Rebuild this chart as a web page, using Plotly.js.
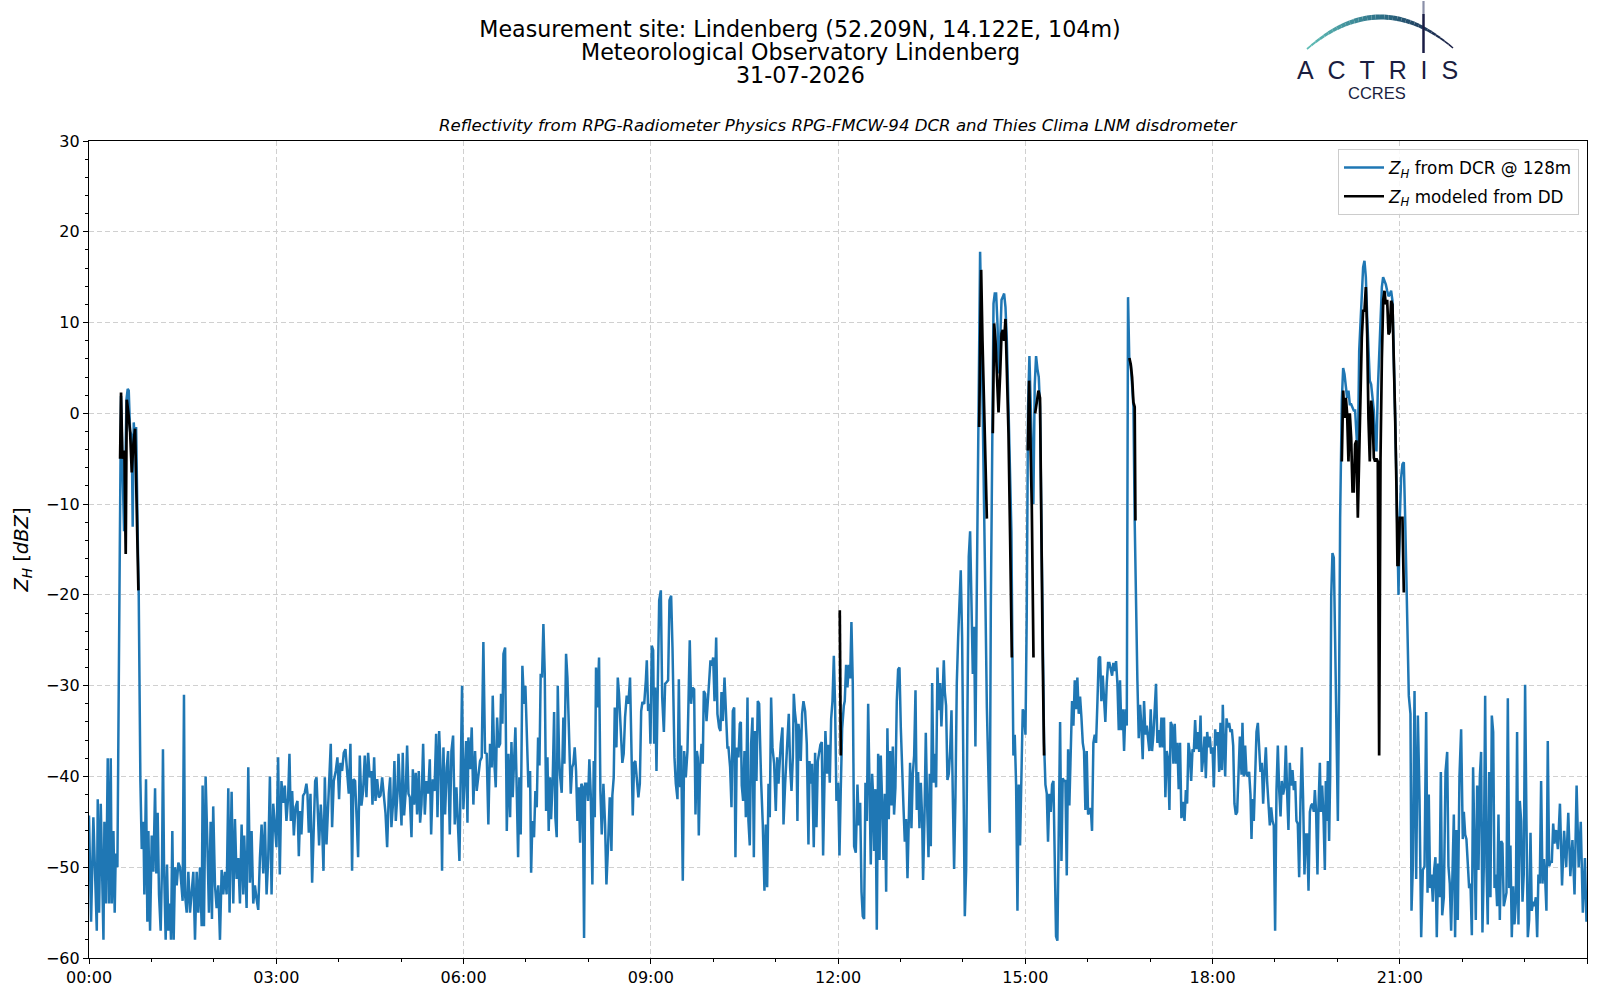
<!DOCTYPE html>
<html>
<head>
<meta charset="utf-8">
<script src="https://cdn.plot.ly/plotly-3.0.1.min.js"></script>
<style>html,body{margin:0;padding:0;background:#fff}#chart{width:1600px;height:1000px}</style>
</head>
<body>
<div id="chart"></div>
<script>
// ---- DATA: [minutes after 00:00 UTC, reflectivity dBZ] ----
const dcr00to03 = [[0.0,-44.3],[2.0,-56],[4.2,-44.5],[7.5,-57],[8.4,-42.5],[9.7,-55],[11.3,-43],[13.9,-58],[14.8,-45],[16.4,-54],[18.0,-38],[19.3,-54],[20.9,-38],[21.9,-54],[23.5,-46],[24.7,-55],[25.7,-48.5],[27.3,-50],[29.6,-15],[30.2,-2],[30.8,1.9],[32.1,-5.3],[33.7,-13],[34.7,-8],[36.0,1.5],[37.2,2.7],[38.2,2.5],[39.5,-2],[41.1,-2.5],[42.0,-12.5],[43.0,-1],[44.3,-3.3],[45.3,-1.5],[46.9,-14],[47.8,-20],[49.4,-40.5],[50.7,-48],[52.3,-45],[53.2,-53],[54.8,-40.3],[56.1,-56],[57.1,-46],[58.7,-57],[60.3,-46.5],[61.9,-50.5],[63.5,-41.3],[64.7,-50.7],[66.0,-44],[67.3,-53],[68.9,-57],[70.2,-49.7],[71.1,-37],[72.1,-49.7],[73.7,-58],[75.0,-49.7],[76.3,-57],[77.9,-54],[78.8,-58],[80.1,-46],[81.4,-58],[82.7,-50],[84.3,-52],[85.9,-49.5],[87.5,-50],[89.1,-52],[90.0,-53.7],[91.3,-31],[92.3,-53],[93.9,-55],[95.5,-50.5],[97.1,-55],[98.7,-53],[100.3,-50.5],[101.9,-58],[103.5,-50.5],[105.1,-55],[106.7,-50],[108.3,-56.5],[109.2,-41],[110.5,-56.5],[112.1,-40],[113.7,-47],[115.3,-55],[116.9,-45],[118.2,-55.7],[119.4,-43.3],[121.1,-52],[122.7,-54.5],[124.3,-52],[125.9,-58],[127.5,-50.3],[129.1,-53],[130.7,-50.5],[132.3,-53],[133.9,-41.3],[135.1,-55],[137.1,-41.7],[138.7,-54],[140.3,-44.7],[141.9,-51.3],[143.5,-49],[145.1,-54],[146.7,-45.3],[148.3,-53],[149.2,-46.5],[151.5,-54.5],[153.1,-39],[154.7,-51.7],[156.3,-46],[157.9,-54],[159.5,-52],[161.1,-53.5],[162.7,-54.7],[164.3,-49],[165.9,-45.3],[167.5,-50.7],[169.1,-45],[170.7,-53],[172.3,-49],[173.9,-40],[175.5,-53],[177.1,-43]];
const dcr03to06 = [[180.2,-47.8],[181.8,-37.9],[183.4,-50.8],[185.0,-40.5],[186.6,-42.9],[188.2,-41.0],[189.8,-44.9],[191.4,-42.3],[192.7,-37.5],[194.0,-44.9],[195.3,-41.6],[196.9,-46.5],[198.5,-43.4],[200.4,-42.7],[201.7,-48.8],[203.0,-43.8],[204.2,-46.4],[205.8,-42.1],[207.4,-41.8],[209.0,-40.8],[210.0,-41.9],[211.3,-46.2],[212.9,-41.9],[214.5,-51.7],[216.1,-44.2],[217.4,-40.5],[218.7,-40.1],[220.3,-44.9],[221.2,-47.6],[222.8,-43.1],[224.1,-45.6],[225.4,-50.4],[226.7,-40.1],[228.3,-47.5],[229.9,-42.3],[231.2,-39.0],[232.4,-36.4],[233.7,-45.6],[235.3,-40.5],[237.2,-39.4],[238.8,-37.9],[240.4,-42.5],[241.7,-38.5],[243.3,-39.4],[244.9,-37.4],[246.5,-37.0],[248.1,-39.4],[249.7,-41.9],[251.3,-36.4],[252.9,-50.4],[254.2,-40.3],[255.8,-40.5],[257.4,-44.9],[258.7,-48.9],[260.3,-37.7],[261.9,-43.2],[263.5,-41.6],[265.1,-37.7],[266.7,-42.3],[268.3,-37.4],[269.9,-40.1],[271.5,-39.4],[272.5,-43.1],[274.1,-37.9],[275.4,-42.7],[277.0,-40.3],[278.6,-42.3],[280.2,-42.1],[281.8,-40.1],[283.4,-42.1],[285.0,-44.0],[286.6,-47.8],[288.2,-41.9],[289.5,-40.1],[290.7,-45.6],[292.4,-42.7],[293.6,-38.3],[294.9,-44.9],[296.5,-41.9],[297.5,-37.5],[299.1,-41.6],[300.4,-45.4],[301.6,-37.4],[302.9,-44.3],[304.5,-41.6],[305.8,-36.6],[307.1,-41.9],[308.4,-42.3],[310.0,-46.7],[311.3,-39.2],[312.5,-43.1],[314.1,-39.6],[315.4,-44.2],[317.0,-39.4],[318.3,-45.1],[319.6,-43.1],[321.2,-36.4],[322.8,-44.2],[324.4,-40.5],[326.0,-41.9],[327.6,-38.1],[328.9,-46.4],[330.5,-40.3],[332.1,-41.6],[333.7,-35.3],[335.0,-44.5],[336.6,-35.0],[338.2,-39.7],[339.4,-50.4],[340.7,-36.8],[342.3,-44.2],[343.9,-39.0],[345.2,-37.2],[346.8,-46.4],[348.4,-37.2],[350.0,-35.5],[351.6,-45.3],[353.2,-41.2]];
const dcr06to09 = [[356.1,-49.3],[357.4,-39.4],[358.6,-30.0],[359.9,-43.6],[361.5,-39.4],[362.5,-36.1],[363.8,-45.1],[364.7,-35.7],[366.3,-39.2],[367.9,-34.6],[369.5,-43.1],[371.1,-37.2],[372.7,-41.6],[374.3,-39.7],[375.9,-38.3],[377.5,-37.9],[379.1,-25.2],[380.7,-37.4],[382.3,-37.5],[383.9,-45.3],[385.5,-36.4],[387.1,-39.0],[388.1,-31.1],[389.7,-38.6],[391.0,-41.2],[392.3,-33.5],[393.6,-36.8],[395.2,-36.4],[396.1,-30.9],[397.4,-34.2],[398.4,-26.5],[400.0,-25.8],[401.6,-46.0],[403.2,-37.5],[404.8,-44.5],[406.1,-36.2],[407.3,-42.3],[408.6,-38.3],[409.9,-34.6],[411.2,-41.6],[412.5,-48.9],[413.7,-40.1],[415.0,-46.4],[416.6,-27.8],[418.2,-32.0],[419.5,-30.0],[420.8,-35.7],[422.4,-41.2],[424.0,-39.4],[425.0,-50.6],[426.2,-44.9],[427.8,-46.7],[429.1,-41.6],[430.4,-43.4],[431.7,-35.7],[433.0,-38.8],[434.2,-28.7],[435.5,-29.1],[436.8,-23.2],[438.1,-28.7],[439.4,-43.8],[440.7,-37.9],[441.9,-46.0],[443.2,-40.1],[444.2,-44.7],[445.8,-40.1],[447.1,-32.9],[448.3,-44.5],[449.6,-46.7],[450.6,-30.0],[451.9,-37.9],[452.8,-39.9],[454.4,-41.8],[456.0,-33.5],[457.0,-38.6],[458.6,-26.5],[459.9,-29.1],[461.5,-35.7],[463.1,-41.9],[464.4,-39.0],[465.6,-38.6],[466.9,-36.8],[468.2,-39.4],[469.5,-44.9],[470.8,-41.2],[472.1,-47.3],[473.3,-40.8],[474.6,-41.2],[475.9,-57.8],[476.9,-40.8],[478.5,-40.8],[479.7,-42.7],[481.0,-38.1],[482.3,-41.9],[483.9,-51.9],[485.2,-38.3],[486.2,-44.5],[487.4,-28.0],[488.7,-32.4],[490.3,-26.9],[491.6,-41.6],[492.9,-46.4],[494.5,-40.8],[496.1,-45.3],[497.4,-51.9],[499.0,-47.5],[500.6,-42.3],[502.2,-48.2],[503.1,-42.1],[504.4,-40.1],[505.4,-32.4],[507.0,-36.8],[508.3,-29.1],[509.5,-30.9],[511.1,-34.2],[512.7,-38.5],[514.0,-37.5],[515.3,-33.5],[516.9,-31.1],[518.5,-32.0],[520.1,-29.1],[521.4,-35.7],[522.7,-44.3],[524.0,-38.5],[525.2,-38.3],[526.5,-40.1],[528.1,-42.3]];
const dcr09to12 = [[529.5,-40.8],[530.8,-32.8],[532.0,-31.8],[533.7,-32.0],[535.3,-29.4],[536.2,-27.2],[537.5,-32.8],[538.8,-32.0],[539.7,-36.4],[541.0,-25.6],[542.3,-26.1],[543.3,-36.4],[544.2,-30.2],[545.5,-39.4],[546.8,-29.8],[548.1,-20.6],[549.7,-19.5],[551.0,-31.3],[552.6,-35.1],[553.8,-29.8],[555.4,-29.6],[556.7,-29.4],[558.0,-20.6],[559.6,-20.1],[560.9,-25.8],[562.8,-37.9],[564.1,-40.8],[565.7,-42.5],[567.0,-29.3],[568.3,-41.2],[569.2,-36.6],[570.8,-51.5],[572.1,-37.2],[573.7,-40.1],[575.3,-37.2],[576.3,-29.8],[577.5,-25.0],[578.8,-32.0],[580.1,-30.2],[581.7,-30.4],[583.0,-44.2],[584.3,-37.2],[585.2,-37.9],[586.2,-46.5],[587.5,-39.0],[588.8,-36.4],[590.0,-38.6],[591.0,-30.6],[592.3,-30.9],[593.6,-33.9],[594.8,-31.1],[596.1,-29.6],[597.4,-27.2],[598.7,-27.8],[600.0,-26.9],[601.3,-31.7],[602.9,-24.7],[604.1,-33.1],[605.7,-34.6],[607.0,-35.0],[608.0,-30.7],[609.3,-33.9],[610.9,-29.1],[612.1,-32.8],[613.7,-36.8],[614.7,-36.8],[616.3,-39.0],[617.6,-43.4],[618.9,-32.8],[620.2,-32.4],[621.4,-48.9],[622.7,-36.8],[624.3,-37.9],[625.6,-34.2],[626.6,-34.0],[627.5,-41.0],[628.8,-42.7],[630.1,-37.2],[631.4,-44.5],[633.0,-31.3],[633.9,-44.9],[635.2,-47.6],[636.5,-36.4],[637.8,-33.5],[639.1,-48.9],[640.3,-35.0],[641.6,-40.5],[642.9,-31.7],[644.2,-32.0],[646.1,-40.5],[647.7,-45.3],[649.3,-52.6],[650.6,-45.3],[651.9,-52.2],[653.2,-40.8],[654.4,-44.5],[655.7,-31.3],[657.0,-36.8],[658.6,-38.6],[660.2,-43.8],[661.5,-37.9],[662.8,-40.8],[664.1,-37.9],[665.0,-36.4],[666.6,-34.6],[667.6,-45.3],[669.2,-40.8],[670.5,-37.9],[671.7,-36.4],[672.7,-33.1],[674.0,-39.0],[675.3,-41.6],[676.6,-37.9],[677.5,-30.9],[678.5,-32.8],[679.8,-34.2],[681.0,-44.9],[682.0,-34.2],[683.3,-35.7],[684.2,-38.3],[685.5,-33.1],[686.8,-31.7],[688.4,-32.8],[690.0,-36.4],[691.6,-47.5],[692.6,-38.3],[693.9,-40.8],[695.1,-38.6],[696.7,-47.8],[698.0,-37.4],[699.3,-45.6],[700.6,-38.3]];
const dcr12to15 = [[703.1,-36.5],[704.4,-36.2],[705.7,-48.7],[707.0,-36.7],[707.9,-35.0],[709.6,-39.7],[710.8,-36.5],[712.1,-40.7],[713.4,-33.7],[714.7,-31.7],[716.0,-26.7],[717.2,-32.2],[718.5,-42.7],[720.1,-40.7],[721.4,-48.7],[722.7,-41.2],[724.0,-34.7],[725.6,-32.2],[726.5,-31.7],[727.8,-27.7],[729.1,-30.2],[730.4,-27.7],[731.7,-29.2],[732.9,-23.0],[734.2,-29.7],[735.5,-47.7],[737.1,-48.4],[738.7,-40.9],[740.0,-45.4],[741.3,-42.9],[742.6,-52.7],[743.8,-55.4],[745.1,-55.7],[746.4,-40.7],[747.7,-44.9],[749.0,-32.0],[750.2,-42.2],[751.5,-49.7],[752.8,-39.7],[753.8,-42.2],[754.7,-48.2],[756.0,-41.4],[757.3,-56.9],[758.6,-37.5],[759.9,-49.2],[761.1,-37.7],[762.4,-42.7],[763.7,-49.2],[765.0,-41.9],[766.3,-52.7],[767.5,-34.7],[768.8,-44.7],[770.1,-37.2],[771.4,-43.2],[772.7,-36.7],[773.9,-44.2],[775.2,-41.2],[776.5,-31.7],[777.8,-28.2],[779.1,-28.0],[780.4,-34.7],[781.6,-39.7],[782.9,-43.2],[784.2,-47.2],[785.5,-44.7],[786.8,-51.2],[788.0,-44.2],[789.3,-38.5],[790.6,-45.7],[791.9,-39.7],[793.2,-37.7],[794.5,-30.5],[795.7,-43.7],[797.0,-39.5],[798.3,-45.7],[799.6,-40.7],[800.9,-44.7],[801.8,-51.4],[803.1,-44.7],[804.4,-35.2],[805.7,-43.2],[807.0,-48.9],[808.2,-39.7],[809.2,-47.7],[810.5,-29.7],[811.8,-40.7],[813.0,-37.5],[814.3,-41.2],[815.6,-28.0],[816.9,-32.7],[818.2,-29.7],[819.4,-34.5],[820.7,-30.7],[821.7,-27.2],[822.7,-30.7],[823.9,-32.2],[825.2,-40.4],[826.5,-39.7],[827.8,-37.2],[829.1,-32.7],[830.3,-41.7],[831.6,-50.2],[832.9,-42.2],[834.2,-29.7],[835.5,-24.7],[836.7,-21.2],[838.0,-17.3],[839.3,-24.7],[840.6,-44.7],[841.9,-55.4],[843.2,-50.2],[844.4,-29.7],[845.7,-15.8],[847.0,-13.0],[848.3,-21.2],[849.6,-28.7],[850.8,-23.5],[852.1,-36.7],[853.4,-19.8],[855.4,4.4],[856.6,17.8],[857.9,9.9],[859.2,0.7],[860.5,-10.3],[861.8,-21.4],[863.1,-32.4],[865.0,-42.7],[865.9,-46.2],[866.9,-21.4],[868.2,0.7],[869.5,12.1],[870.7,13.2],[872.0,13.2],[873.3,9.9],[874.6,4.4],[875.9,8.0],[877.2,12.5],[878.4,12.8],[879.7,13.2],[881.0,11.7],[882.3,8.0],[883.9,0.7],[885.4,-6.2],[886.7,-13.1],[887.7,-27.0],[888.6,-37.7],[889.9,-35.4],[891.2,-40.9],[892.5,-54.8],[893.7,-40.9],[895.0,-47.6],[896.3,-40.9],[897.6,-32.6],[898.9,-33.1]];
const dcr15to18 = [[900.2,-35.4],[901.4,-22.4],[902.7,0.7],[904.0,6.3],[905.3,0.7],[906.6,-4.0],[907.8,-10.0],[909.1,3.1],[910.4,6.3],[911.7,4.9],[913.0,4.0],[914.2,0.7],[915.5,-13.1],[916.8,-22.4],[918.1,-36.3],[919.4,-40.9],[920.7,-41.9],[921.9,-47.2],[923.2,-41.9],[924.5,-43.9],[925.8,-40.9],[927.1,-40.5],[928.3,-46.9],[929.6,-57.6],[930.9,-58.1],[932.2,-45.6],[933.5,-34.0],[934.8,-49.3],[936.0,-40.2],[937.3,-40.5],[938.6,-40.5],[939.9,-50.9],[941.2,-37.0],[942.4,-43.2],[943.7,-37.2],[945.0,-31.7],[946.3,-34.4],[947.6,-29.4],[948.9,-32.6],[950.1,-29.1],[951.4,-33.1],[952.7,-31.2],[954.0,-33.5],[955.3,-36.3],[956.5,-37.2],[957.8,-43.7],[959.1,-37.2],[960.4,-44.2],[961.7,-43.7],[963.0,-43.5],[964.2,-46.0],[965.5,-36.3],[966.8,-35.4],[968.1,-36.3],[969.4,-31.7],[970.6,-27.0],[971.9,-26.8],[973.2,-31.7],[974.5,-28.9],[975.8,-31.7],[977.0,-34.0],[978.3,-29.8],[979.6,-27.5],[980.9,-27.5],[982.2,-28.4],[983.5,-28.9],[984.7,-27.5],[986.0,-28.4],[987.3,-27.3],[988.6,-29.8],[989.9,-34.9],[991.1,-29.4],[992.4,-34.9],[993.7,-32.6],[995.0,-37.2],[996.3,-32.6],[997.6,-34.4],[998.8,12.8],[1000.1,5.4],[1001.4,5.4],[1002.7,3.1],[1004.0,0.7],[1005.2,-11.8],[1006.5,-22.4],[1007.8,-29.4],[1009.1,-35.8],[1010.4,-32.1],[1011.6,-34.4],[1012.9,-38.1],[1014.2,-31.7],[1015.5,-35.4],[1016.8,-34.4],[1018.1,-35.8],[1019.3,-37.2],[1020.6,-32.6],[1021.9,-37.2],[1023.2,-35.4],[1024.5,-31.7],[1025.7,-29.8],[1027.0,-36.3],[1028.3,-34.9],[1029.6,-36.8],[1030.9,-33.5],[1032.2,-36.8],[1033.4,-33.5],[1034.7,-42.3],[1036.0,-37.2],[1037.3,-38.1],[1038.6,-43.7],[1039.8,-34.0],[1041.1,-34.4],[1042.4,-38.6],[1043.7,-34.2],[1045.0,-38.6],[1046.2,-36.3],[1047.5,-41.4],[1048.8,-36.3],[1050.1,-44.6],[1051.4,-42.8],[1053.1,-44.9],[1054.4,-41.5],[1055.6,-43.0],[1056.9,-36.3],[1058.2,-37.5],[1059.5,-40.5],[1060.8,-37.0],[1062.0,-37.3],[1063.3,-33.8],[1064.6,-37.0],[1065.9,-35.1],[1067.2,-37.3],[1068.5,-33.3],[1069.7,-39.5],[1071.0,-38.0],[1072.3,-35.6],[1073.6,-40.2],[1074.9,-35.1],[1076.2,-36.8],[1077.4,-35.6],[1078.7,-37.5]];
const dcr18to21 = [[1080.0,-36.8],[1081.3,-41.2],[1082.6,-34.8],[1083.8,-36.6],[1085.1,-35.1],[1086.4,-39.5],[1087.7,-34.1],[1089.0,-39.3],[1089.9,-32.1],[1090.9,-36.1],[1092.2,-40.0],[1093.5,-33.6],[1094.7,-34.6],[1096.0,-34.1],[1097.3,-35.1],[1098.6,-34.8],[1099.9,-36.6],[1101.1,-43.0],[1102.4,-44.2],[1103.7,-43.9],[1105.0,-39.0],[1106.3,-35.6],[1107.9,-39.8],[1108.8,-34.1],[1110.1,-40.0],[1111.4,-36.6],[1112.7,-39.8],[1114.0,-40.0],[1115.2,-39.5],[1116.5,-42.0],[1117.5,-46.9],[1118.4,-42.5],[1119.7,-44.9],[1121.0,-39.0],[1122.3,-35.1],[1123.6,-34.1],[1124.8,-36.6],[1126.1,-39.5],[1127.4,-38.5],[1128.7,-43.0],[1130.0,-39.5],[1131.3,-36.8],[1132.5,-40.5],[1133.8,-43.4],[1135.1,-45.4],[1136.4,-43.4],[1137.7,-44.9],[1138.9,-45.4],[1140.2,-57.0],[1141.5,-41.5],[1142.8,-36.6],[1144.1,-41.5],[1145.4,-44.4],[1146.6,-40.5],[1147.9,-42.0],[1149.2,-41.2],[1150.5,-36.6],[1151.8,-42.0],[1153.0,-45.9],[1154.3,-38.5],[1155.6,-41.0],[1156.9,-39.3],[1158.2,-41.5],[1159.5,-40.5],[1160.7,-44.9],[1162.0,-45.2],[1163.3,-51.1],[1164.6,-42.5],[1165.9,-36.8],[1167.1,-42.5],[1168.4,-50.8],[1169.7,-46.4],[1171.0,-46.4],[1172.3,-52.6],[1173.6,-43.9],[1174.8,-43.2],[1176.1,-43.0],[1177.4,-43.9],[1178.4,-41.5],[1179.6,-43.9],[1180.9,-50.8],[1181.9,-43.4],[1183.2,-38.5],[1184.1,-43.9],[1185.4,-41.0],[1186.7,-44.4],[1188.0,-50.3],[1188.9,-40.5],[1189.9,-44.9],[1190.9,-38.3],[1192.1,-47.1],[1193.1,-40.0],[1194.1,-20.3],[1195.3,-15.4],[1196.6,-15.9],[1197.9,-25.2],[1199.2,-37.5],[1200.5,-44.9],[1201.7,-30.1],[1202.7,-11.5],[1204.3,1.4],[1205.6,5.0],[1206.9,4.3],[1208.2,2.5],[1209.4,1.7],[1210.7,2.5],[1212.0,1.0],[1213.3,1.0],[1214.6,0.6],[1215.8,0.3],[1217.1,0.3],[1218.4,-2.7],[1219.7,-4.9],[1221.0,6.9],[1222.3,10.6],[1223.5,14.2],[1224.8,16.1],[1226.1,16.8],[1227.4,15.0],[1228.7,10.6],[1229.9,6.9],[1231.2,3.6],[1232.5,3.2],[1233.8,1.7],[1235.1,0.3],[1236.3,-2.7],[1237.6,-4.2],[1238.9,2.5],[1240.2,6.9],[1241.5,11.3],[1242.8,13.9],[1244.0,15.0],[1245.3,14.6],[1246.6,14.2],[1247.9,13.5],[1249.2,12.9],[1250.4,13.1],[1251.7,13.5],[1253.0,12.4],[1254.3,6.9],[1255.6,-0.5],[1256.9,-7.8],[1257.8,-17.0],[1258.8,-20.0]];
const dcr21to24 = [[1260.1,-11.5],[1261.3,-7.1],[1262.6,-5.6],[1263.9,-5.4],[1265.2,-11.5],[1266.5,-18.9],[1267.7,-25.2],[1268.7,-31.1],[1270.3,-33.1],[1271.3,-54.8],[1272.6,-49.9],[1274.2,-30.6],[1275.8,-51.3],[1277.4,-33.3],[1279.0,-42.5],[1280.6,-57.7],[1282.2,-50.3],[1283.8,-49.9],[1285.4,-32.9],[1286.7,-52.8],[1287.9,-42.0],[1289.2,-52.3],[1290.5,-50.8],[1291.8,-53.8],[1293.1,-50.3],[1294.3,-48.9],[1295.6,-57.7],[1296.9,-49.6],[1298.2,-53.3],[1299.5,-39.5],[1300.8,-55.3],[1302.4,-53.3],[1304.0,-39.5],[1305.6,-37.3],[1306.8,-49.9],[1308.1,-51.8],[1309.4,-57.0],[1310.7,-51.8],[1312.0,-44.2],[1313.2,-57.7],[1314.5,-45.9],[1315.8,-55.8],[1317.4,-40.0],[1319.0,-34.8],[1320.6,-46.9],[1321.6,-43.9],[1322.9,-46.4],[1324.1,-46.9],[1325.4,-50.3],[1326.7,-52.3],[1328.0,-51.8],[1329.3,-57.5],[1330.5,-39.0],[1331.8,-49.9],[1333.1,-55.8],[1334.4,-41.0],[1335.7,-50.3],[1337.0,-40.0],[1338.2,-37.3],[1339.5,-57.2],[1340.8,-49.9],[1342.1,-31.1],[1343.4,-49.9],[1344.6,-56.3],[1345.9,-39.5],[1347.2,-53.3],[1348.5,-33.3],[1349.8,-35.1],[1351.1,-52.3],[1352.3,-50.8],[1353.6,-54.3],[1354.9,-44.2],[1356.2,-55.8],[1357.5,-47.1],[1358.7,-47.4],[1360.0,-54.3],[1361.3,-53.3],[1362.6,-52.8],[1363.9,-31.4],[1365.2,-52.3],[1366.4,-47.6],[1367.7,-57.7],[1369.0,-52.1],[1370.3,-56.3],[1371.6,-53.8],[1372.8,-35.1],[1374.1,-56.3],[1375.4,-42.7],[1376.7,-44.9],[1378.0,-53.8],[1379.2,-50.8],[1380.5,-29.9],[1381.8,-44.9],[1383.1,-57.7],[1384.4,-55.8],[1385.7,-46.2],[1386.9,-54.8],[1388.2,-53.8],[1389.5,-54.3],[1390.8,-53.3],[1392.1,-57.7],[1393.3,-50.8],[1394.6,-51.8],[1395.9,-40.5],[1397.2,-51.8],[1398.5,-49.1],[1399.8,-51.3],[1401.0,-54.8],[1402.3,-36.1],[1403.6,-49.9],[1404.9,-49.4],[1406.2,-49.4],[1407.5,-45.2],[1408.7,-47.4],[1410.3,-45.9],[1412.0,-48],[1414.0,-43],[1416.0,-52],[1418.0,-46],[1420.0,-50],[1422.0,-44],[1424.0,-51],[1426.0,-47],[1428.0,-53],[1430.0,-41],[1432.0,-50],[1434.0,-45],[1436.0,-55],[1438.0,-49],[1439.5,-56]];

// disdrometer-modelled reflectivity (null = no rain / gap)
const ddEvent1 = [[29.9,-5],[30.8,2.3],[32.1,-5],[34.0,-4.1],[35.3,-15.5],[36.3,1.5],[37.9,0],[39.5,-2],[41.1,-6.5],[42.7,-3.3],[44.3,-1.7],[45.9,-9],[47.5,-19.5],[48.5,null]];
const ddEvent2 = [[721.7,-21.7],[722.7,-37.7],[723.5,null]];
const ddEvent3 = [[855.7,-1.5],[856.6,8],[857.6,15.8],[858.9,8],[860.2,0.7],[861.5,-4.8],[863.1,-11.6],[865.0,null],[868.8,-2.2],[870.1,9.9],[871.4,8],[872.7,4.4],[874.3,0.1],[875.9,4.4],[877.2,8.8],[878.4,9.2],[879.7,8],[881.0,10.4],[882.3,4.4],[883.9,-2.2],[885.5,-14],[887.1,-26.9],[895.0,null],[902.5,-4.1],[903.7,3.6],[905.0,-3],[906.3,-10.3],[907.9,-26.9],[908.7,null],[909.5,0],[911.1,1.1],[912.7,2.5],[914.2,1.7],[915.5,-15.9],[916.8,-27],[918.1,-37.7],[919.0,null]];
const ddEvent4 = [[1000.1,6.1],[1001.4,5.4],[1002.7,4],[1004.0,1.2],[1005.2,0.7],[1005.9,-11.8],[1007.0,null]];
const ddEvent5 = [[1204.3,-5.3],[1205.6,2.5],[1206.9,-0.5],[1208.2,1.7],[1209.4,0],[1210.7,-5.3],[1212.0,0],[1213.3,-2.7],[1214.6,-8.6],[1215.8,-8.6],[1217.1,-3.4],[1218.4,-3],[1219.7,-11.5],[1221.0,-4.9],[1222.3,3.2],[1223.5,8.3],[1224.8,11.3],[1226.1,11.3],[1227.4,13.9],[1228.7,8.7],[1229.9,-0.5],[1231.2,-5.3],[1232.5,1.4],[1233.8,0],[1235.1,-4.9],[1236.3,-5.3],[1237.6,-5],[1238.9,-5.3],[1240.2,-37.7],[1241.5,-5],[1242.8,6],[1244.1,12.5],[1245.3,13.5],[1246.6,12],[1247.9,12.5],[1249.2,8.7],[1250.4,9],[1251.7,12.4],[1253.0,12],[1254.3,6.5],[1255.6,-0.5],[1256.9,-8.6],[1257.8,-16.7],[1258.8,-16.7],[1260.0,-11.5],[1261.3,-11.5],[1262.6,-11.5],[1263.9,-19.6],[1265.2,-19.6]];

const xTickLabelsFormat = '%H:%M';
const titleLines = ['Measurement site: Lindenberg (52.209N, 14.122E, 104m)', 'Meteorological Observatory Lindenberg', '31-07-2026'];
const subTitle = 'Reflectivity from RPG-Radiometer Physics RPG-FMCW-94 DCR and Thies Clima LNM disdrometer';
const legendNames = ['<i>Z</i><sub><i>H</i></sub> from DCR @ 128m', '<i>Z</i><sub><i>H</i></sub> modeled from DD'];

// ---- BUILD ----
function pad(n){return (n<10?'0':'')+n;}
function toTime(m){const s=Math.round(m*60);const h=Math.floor(s/3600),mi=Math.floor((s%3600)/60),se=s%60;return '2026-07-31 '+pad(h)+':'+pad(mi)+':'+pad(se);}
const dcr = [].concat(dcr00to03,dcr03to06,dcr06to09,dcr09to12,dcr12to15,dcr15to18,dcr18to21,dcr21to24);
const dd = [].concat(ddEvent1,ddEvent2,ddEvent3,ddEvent4,ddEvent5);

const FONT = 'DejaVu Sans, Liberation Sans, sans-serif';
const traces = [
  {x: dcr.map(p=>toTime(p[0])), y: dcr.map(p=>p[1]), type:'scatter', mode:'lines', name: legendNames[0],
   legendgroup:'dcr', line:{color:'#1f77b4', width:2.5}, connectgaps:false},
  {x: dd.map(p=>toTime(p[0])), y: dd.map(p=>p[1]), type:'scatter', mode:'lines', name: legendNames[1],
   legendgroup:'dd', line:{color:'#000000', width:2.7}, connectgaps:false}
];

// layout geometry (pixels) -> paper
const L=89, R=1587, T=141, B=958;
const px = v => (v-L)/(R-L);
const py = v => (B-v)/(B-T);

// ACTRIS logo arc (decoration) as gradient segments of a quadratic curve
const shapes = [];
const P0=[1307,49], P1=[1380,-14.5], P2=[1453,48];
const c0=[95,190,182], c1=[45,112,136], c2=[24,28,66];
const N=34;
for(let i=0;i<N;i++){
  const a=i/N, b=(i+1)/N, m=(a+b)/2;
  const q=t=>[(1-t)*(1-t)*P0[0]+2*(1-t)*t*P1[0]+t*t*P2[0],(1-t)*(1-t)*P0[1]+2*(1-t)*t*P1[1]+t*t*P2[1]];
  const pa=q(a), pb=q(b);
  let col;
  if(m<0.5){const k=m/0.5;col=c0.map((c,j)=>Math.round(c+(c1[j]-c)*k));}
  else{const k=(m-0.5)/0.5;col=c1.map((c,j)=>Math.round(c+(c2[j]-c)*k));}
  const w = 1.5 + 3.6*Math.sin(Math.PI*Math.min(1,m*1.05));
  shapes.push({type:'line', xref:'paper', yref:'paper', x0:px(pa[0]), y0:py(pa[1]), x1:px(pb[0]), y1:py(pb[1]),
    line:{color:'rgb('+col.join(',')+')', width:w}, layer:'above'});
}
shapes.push({type:'line', xref:'paper', yref:'paper', x0:px(1423.5), y0:py(1), x1:px(1423.5), y1:py(14), line:{color:'#8a8fa8', width:2.2}});
shapes.push({type:'line', xref:'paper', yref:'paper', x0:px(1423.5), y0:py(14), x1:px(1423.5), y1:py(53), line:{color:'#1a1d45', width:2.5}});

const annotations = [
  {text: titleLines[1], xref:'paper', yref:'paper', x:px(800), y:py(51.5), xanchor:'center', yanchor:'middle', showarrow:false, font:{family:FONT, size:22.2, color:'#000'}},
  {text: titleLines[2], xref:'paper', yref:'paper', x:px(800), y:py(75), xanchor:'center', yanchor:'middle', showarrow:false, font:{family:FONT, size:22.2, color:'#000'}},
  {text: '<i>'+subTitle+'</i>', xref:'paper', yref:'paper', x:0.5, y:py(126), xanchor:'center', yanchor:'middle', showarrow:false, font:{family:FONT, size:16.6, color:'#000'}},
  {text: 'A\u00a0\u00a0C\u00a0\u00a0T\u00a0\u00a0R\u00a0\u00a0I\u00a0\u00a0S', xref:'paper', yref:'paper', x:px(1377.5), y:py(70), xanchor:'center', yanchor:'middle', showarrow:false, font:{family:'Liberation Sans, Arial, sans-serif', size:25, color:'#1a1d40'}},
  {text: 'CCRES', xref:'paper', yref:'paper', x:px(1377), y:py(93.5), xanchor:'center', yanchor:'middle', showarrow:false, font:{family:'Liberation Sans, Arial, sans-serif', size:16.5, color:'#1a1d40'}}
];

const axisCommon = {
  ticks:'outside', ticklen:5, tickwidth:1, tickcolor:'#000',
  showline:true, linecolor:'#000', linewidth:1.1, mirror:true,
  showgrid:true, gridcolor:'#d0d0d0', gridwidth:1, griddash:'5px,3px',
  zeroline:false, tickfont:{family:FONT, size:16, color:'#000'}
};

const layout = {
  width:1600, height:1000,
  paper_bgcolor:'#fff', plot_bgcolor:'#fff',
  margin:{l:L, r:1600-R, t:T, b:1000-B, autoexpand:false},
  font:{family:FONT, color:'#000'},
  title:{text:titleLines[0], x:0.5, xref:'container', xanchor:'center', y:1-29/1000, yref:'container', yanchor:'middle', font:{family:FONT, size:22.2, color:'#000'}},
  xaxis: Object.assign({}, axisCommon, {
    type:'date', range:['2026-07-31 00:00:00','2026-08-01 00:00:00'],
    tick0:'2026-07-31 00:00:00', dtick:3*3600000, tickformat:xTickLabelsFormat,
    minor:{dtick:3600000, ticklen:3, tickwidth:1, tickcolor:'#000', ticks:'outside', showgrid:false}
  }),
  yaxis: Object.assign({}, axisCommon, {
    range:[-60,30], tick0:0, dtick:10,
    minor:{dtick:2, ticklen:3, tickwidth:1, tickcolor:'#000', ticks:'outside', showgrid:false},
    title:{text:'<i>Z</i><sub><i>H</i></sub> [<i>dBZ</i>]', font:{family:FONT, size:19.5, color:'#000'}, standoff:12}
  }),
  showlegend:true,
  legend:{x:px(1579), y:py(149), xanchor:'right', yanchor:'top', bgcolor:'rgba(255,255,255,0.85)', bordercolor:'#cccccc', borderwidth:1,
    font:{family:FONT, size:16.8, color:'#000'}, itemwidth:40, tracegroupgap:4},
  shapes: shapes,
  annotations: annotations
};

Plotly.newPlot('chart', traces, layout, {staticPlot:true, displayModeBar:false});
</script>
</body>
</html>
